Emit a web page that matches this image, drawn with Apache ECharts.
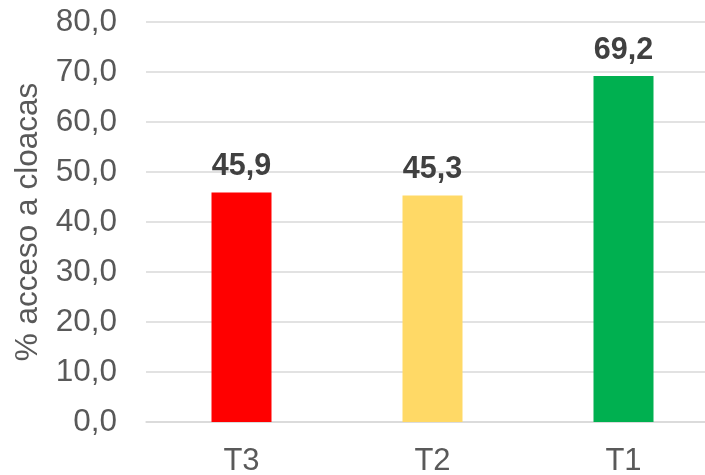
<!DOCTYPE html>
<html>
<head>
<meta charset="utf-8">
<script src="https://cdn.jsdelivr.net/npm/echarts@6/dist/echarts.min.js"></script>
<style>
html, body { margin: 0; padding: 0; background: #fff; }
#chart { width: 705px; height: 475px; }
</style>
</head>
<body>
<div id="chart"></div>
<script>
const categories = ['T3', 'T2', 'T1'];
const values = [45.9, 45.3, 69.2];
const barColors = ['#FF0000', '#FFD966', '#00B050'];
const yName = '% acceso a cloacas';

const fmt = (v) => v.toFixed(1).replace('.', ',');
const font = '"Liberation Sans", Arial, sans-serif';

const chart = echarts.init(document.getElementById('chart'), null, {renderer: 'canvas'});
chart.setOption({
    animation: false,
    grid: {left: 146, width: 573, top: 22, bottom: 53, outerBoundsMode: 'none'},
    xAxis: {
        type: 'category',
        data: categories,
        axisLine: {lineStyle: {color: '#D9D9D9', width: 1.5}},
        axisTick: {show: false},
        axisLabel: {color: '#595959', fontSize: 31, fontFamily: font, margin: 24}
    },
    yAxis: {
        type: 'value',
        min: 0,
        max: 80,
        interval: 10,
        name: yName,
        nameLocation: 'middle',
        nameGap: 102,
        nameTextStyle: {color: '#595959', fontSize: 31.5, fontFamily: font},
        axisLine: {show: false},
        axisTick: {show: false},
        axisLabel: {color: '#595959', fontSize: 31.5, fontFamily: font, margin: 29, formatter: fmt},
        splitLine: {lineStyle: {color: '#D9D9D9', width: 1.5}}
    },
    series: [{
        type: 'bar',
        barWidth: 60,
        data: values.map((v, i) => ({value: v, itemStyle: {color: barColors[i]}})),
        label: {
            show: true,
            position: 'top',
            distance: 10,
            color: '#404040',
            fontSize: 30.5,
            fontWeight: 'bold',
            fontFamily: font,
            formatter: (p) => fmt(p.value)
        }
    }]
});
</script>
</body>
</html>
